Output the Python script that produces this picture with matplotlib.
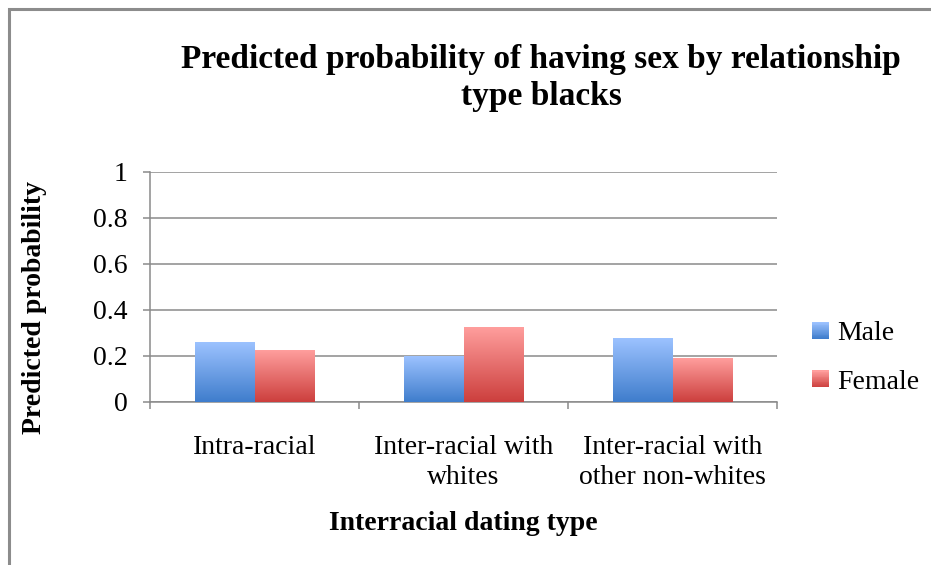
import numpy as np
import matplotlib
matplotlib.use("Agg")
import matplotlib.pyplot as plt
from matplotlib.patches import Rectangle
from matplotlib.legend_handler import HandlerBase
from matplotlib.colors import LinearSegmentedColormap

categories = ["Intra-racial", "Inter-racial with\nwhites", "Inter-racial with\nother non-whites"]
male = [0.258, 0.196, 0.276]
female = [0.225, 0.325, 0.190]
yticks = [0, 0.2, 0.4, 0.6, 0.8, 1]
ytick_labels = ["0", "0.2", "0.4", "0.6", "0.8", "1"]

plt.rcParams['font.family'] = ['Liberation Serif', 'DejaVu Serif']

# light top -> dark bottom, like the office gradient fill
male_cmap = LinearSegmentedColormap.from_list("male", ["#3F7DCC", "#9CC2FF"])
female_cmap = LinearSegmentedColormap.from_list("female", ["#CC3F3D", "#FF9E9D"])
grid_col = "#8A8A8A"
fs = 20

fig = plt.figure(figsize=(9.31, 5.65), dpi=100)
ax = fig.add_axes([150 / 931, 163.3 / 565, 627 / 931, 230 / 565])

x = np.arange(len(categories))
width = 1 / 3.5
grad = np.linspace(0, 1, 256).reshape(-1, 1)


def gradient_bars(xpos, vals, cmap):
    bars = ax.bar(xpos, vals, width, color="none", edgecolor="none", zorder=3)
    for b in bars:
        x0, y0 = b.get_x(), b.get_y()
        ax.imshow(grad, cmap=cmap, origin="lower", aspect="auto",
                  extent=[x0, x0 + b.get_width(), y0, y0 + b.get_height()],
                  zorder=3, interpolation="bilinear")
    return bars


gradient_bars(x - width / 2, male, male_cmap)
gradient_bars(x + width / 2, female, female_cmap)

ax.set_xlim(-0.5, len(categories) - 0.5)
ax.set_ylim(0, 1)
ax.set_aspect("auto")

ax.set_yticks(yticks)
ax.set_yticklabels(ytick_labels, fontsize=fs)
ax.yaxis.grid(True, color=grid_col, linewidth=1.1, zorder=0)
ax.set_axisbelow(True)

ax.set_xticks(x)
ax.set_xticklabels(categories, fontsize=fs, linespacing=1.25)
ax.set_xticks(np.arange(len(categories) + 1) - 0.5, minor=True)
ax.tick_params(axis="x", which="major", length=0, pad=24)
ax.tick_params(axis="x", which="minor", length=5, width=1.1, color=grid_col, direction="out")
ax.tick_params(axis="y", length=5, width=1.1, color=grid_col, direction="out", pad=11)

for s in ["top", "right"]:
    ax.spines[s].set_visible(False)
for s in ["left", "bottom"]:
    ax.spines[s].set_color(grid_col)
    ax.spines[s].set_linewidth(1.1)

fig.text(541 / 931, 1 - 78 / 565, "Predicted probability of having sex by relationship\ntype blacks",
         ha="center", va="center", fontsize=24, fontweight="bold", linespacing=1.25)
fig.text(35 / 931, 1 - 307 / 565, "Predicted probability", rotation=90,
         ha="center", va="center", fontsize=fs, fontweight="bold")
fig.text(463 / 931, 1 - 524 / 565, "Interracial dating type",
         ha="center", va="center", fontsize=fs, fontweight="bold")


class GradientHandler(HandlerBase):
    def __init__(self, cmap):
        super().__init__()
        self.cmap = cmap

    def create_artists(self, legend, orig_handle, xdescent, ydescent, width, height, fontsize, trans):
        side = min(width, height)
        x0 = -xdescent + (width - side)
        y0 = -ydescent + (height - side) / 2
        n = 20
        arts = []
        for i in range(n):
            r = Rectangle((x0, y0 + side * i / n), side, side / n + 0.3,
                          facecolor=self.cmap(i / (n - 1)), edgecolor="none", transform=trans)
            arts.append(r)
        return arts


h_male = Rectangle((0, 0), 1, 1)
h_female = Rectangle((0, 0), 1, 1)
fig.legend([h_male, h_female], ["Male", "Female"],
           handler_map={h_male: GradientHandler(male_cmap), h_female: GradientHandler(female_cmap)},
           loc="center left", bbox_to_anchor=(812 / 931, 1 - 358 / 565), frameon=False,
           fontsize=fs, handlelength=0.6, handleheight=0.6, handletextpad=0.3,
           labelspacing=0.85, borderpad=0, borderaxespad=0)

# outer chart frame
fig.add_artist(Rectangle((9 / 931, -0.1), 1.2, 1 - 9 / 565 + 0.1, transform=fig.transFigure,
                         facecolor="none", edgecolor="#8C8C8C", linewidth=2.2))

fig.savefig("out.png", dpi=100)
